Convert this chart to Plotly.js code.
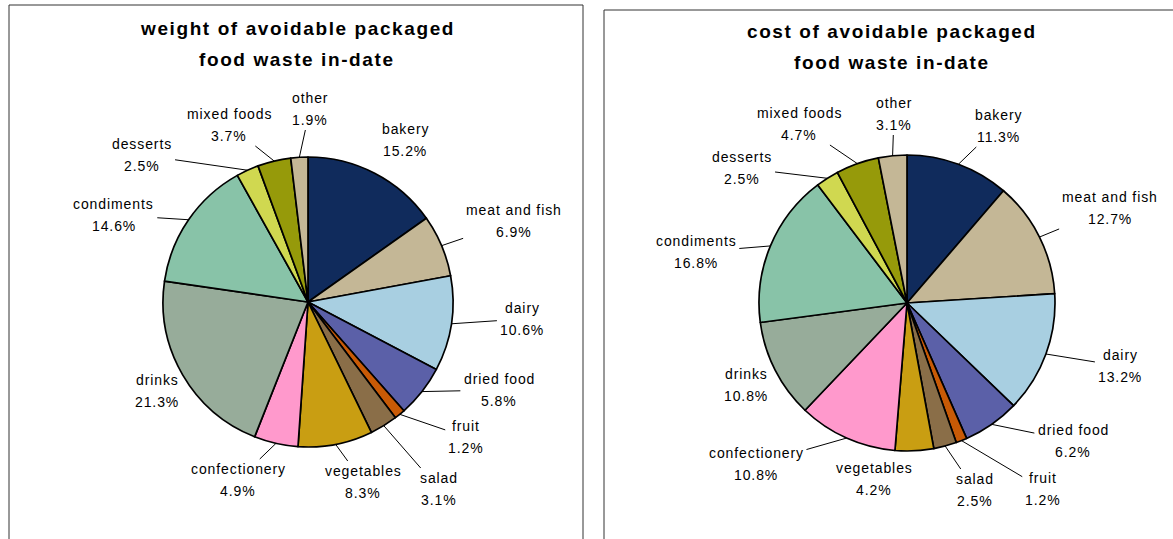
<!DOCTYPE html>
<html><head><meta charset="utf-8">
<script src="https://cdn.plot.ly/plotly-3.0.1.min.js"></script>
<style>
html,body{margin:0;padding:0;background:#fff}
.annotation-text{letter-spacing:0.9px}
</style>
</head><body>
<div id="chart" style="width:1173px;height:539px"></div>
<script>
// ---- data ----
const categories = ['bakery','meat and fish','dairy','dried food','fruit','salad','vegetables','confectionery','drinks','condiments','desserts','mixed foods','other'];
const weightPct = [15.2, 6.9, 10.6, 5.8, 1.2, 3.1, 8.3, 4.9, 21.3, 14.6, 2.5, 3.7, 1.9];
const costPct   = [11.3, 12.7, 13.2, 6.2, 1.2, 2.5, 4.2, 10.8, 10.8, 16.8, 2.5, 4.7, 3.1];
const weightTitle = ['weight of avoidable packaged', 'food waste in-date'];
const costTitle   = ['cost of avoidable packaged', 'food waste in-date'];

// ---- styles / layout ----
const sliceColors = ['#102B5C','#C4B796','#A8CFE1','#5B60A8','#C85A06','#8A6E48','#C99E12','#FF99CC','#97AC9A','#88C3A8','#D0D850','#969A0A','#C4B796'];
const W = 1173, H = 539;
const FONT = 'Liberation Sans, Arial, sans-serif';
const panels = [
  {values: weightPct, title: weightTitle, cx: 308, cy: 302, r: 145, titleX: 297, titleY: [28, 60], box: [9, 5, 583],
   labelPos: [[405,140],[514,221],[522,319],[499,390],[466,437],[439,489],[363,482],[238,480],[157,391],[114,215],[142,155],[229,125],[310,109]],
   leader: [0,1,1,1,1,1,1,1,0,1,1,1,1]},
  {values: costPct, title: costTitle, cx: 907, cy: 303, r: 148, titleX: 892, titleY: [31, 62], box: [604, 10, 1190],
   labelPos: [[998,126],[1110,208],[1120,366],[1073,441],[1043,489],[975,490],[874,479],[756,464],[746,385],[696,252],[742,168],[799,124],[894,114]],
   leader: [1,1,1,1,1,1,0,1,0,1,1,1,1]}
];

const px = x => x / W;
const py = y => 1 - y / H;
const ctx = document.createElement('canvas').getContext('2d');
ctx.font = '14px "Liberation Sans", Arial, sans-serif';
const textW = s => ctx.measureText(s).width + 0.9 * s.length;

const traces = [];
const annotations = [];
const shapes = [];

panels.forEach(p => {
  traces.push({
    type: 'pie',
    labels: categories,
    values: p.values,
    sort: false,
    direction: 'clockwise',
    rotation: 0,
    textinfo: 'none',
    hoverinfo: 'label+percent',
    marker: {colors: sliceColors, line: {color: '#000', width: 1.7}},
    domain: {x: [px(p.cx - p.r), px(p.cx + p.r)], y: [py(p.cy + p.r), py(p.cy - p.r)]},
    showlegend: false
  });
  shapes.push({type: 'rect', xref: 'paper', yref: 'paper',
    x0: px(p.box[0]), x1: px(p.box[2]), y0: py(p.box[1]), y1: -0.1,
    line: {color: '#333', width: 1}, fillcolor: 'rgba(0,0,0,0)', layer: 'below'});
  p.title.forEach((t, k) => annotations.push({
    xref: 'paper', yref: 'paper', x: px(p.titleX), y: py(p.titleY[k]),
    xanchor: 'center', yanchor: 'middle', showarrow: false,
    text: '<b><span style="letter-spacing:1.6px">' + t + '</span></b>', font: {family: FONT, size: 19, color: '#000'}
  }));
  const total = p.values.reduce((a, b) => a + b, 0);
  let cum = 0;
  p.values.forEach((v, i) => {
    const mid = (cum + v / 2) / total;
    cum += v;
    const th = 2 * Math.PI * mid;
    const ex = p.cx + p.r * Math.sin(th);
    const ey = p.cy - p.r * Math.cos(th);
    const [lx, ly] = p.labelPos[i];
    const pctText = v.toFixed(1) + '%';
    if (p.leader[i]) {
      const hw = Math.max(textW(categories[i]), textW(pctText)) / 2 + 3;
      const hh = 21;
      const dx = ex - lx, dy = ey - ly;
      const t = Math.min(dx ? hw / Math.abs(dx) : Infinity, dy ? hh / Math.abs(dy) : Infinity);
      if (t < 1) {
        shapes.push({type: 'line', xref: 'paper', yref: 'paper',
          x0: px(lx + dx * t), y0: py(ly + dy * t), x1: px(ex), y1: py(ey),
          line: {color: '#000', width: 1}});
      }
    }
    annotations.push({
      xref: 'paper', yref: 'paper', x: px(lx), y: py(ly - 11),
      xanchor: 'center', yanchor: 'middle', showarrow: false,
      text: categories[i], font: {family: FONT, size: 14, color: '#000'}
    });
    annotations.push({
      xref: 'paper', yref: 'paper', x: px(lx), y: py(ly + 11),
      xanchor: 'center', yanchor: 'middle', showarrow: false,
      text: pctText, font: {family: FONT, size: 14, color: '#000'}
    });
  });
});

const layout = {
  width: W, height: H,
  margin: {l: 0, r: 0, t: 0, b: 0},
  paper_bgcolor: '#fff',
  showlegend: false,
  annotations: annotations,
  shapes: shapes
};
Plotly.newPlot('chart', traces, layout, {displayModeBar: false, staticPlot: true});
</script>
</body></html>
